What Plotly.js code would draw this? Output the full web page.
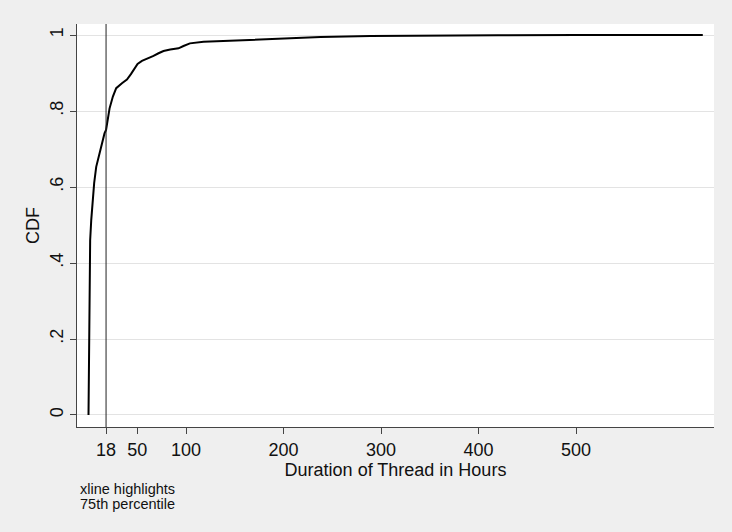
<!DOCTYPE html>
<html>
<head>
<meta charset="utf-8">
<script src="https://cdn.plot.ly/plotly-3.0.1.min.js"></script>
<style>
  html, body { margin: 0; padding: 0; background: #efefef; }
  #chart { width: 732px; height: 532px; }
</style>
</head>
<body>
<div id="chart"></div>
<script>
// Duration of thread (hours) and cumulative share
const durationHours = [0, 0.2, 0.4, 0.6, 1.0, 1.7, 2.8, 4.1, 5.8, 7.9, 12, 16.4, 18, 18.9, 21.6, 25, 28.4, 34.3, 39.4, 43.5, 46.9, 50.3, 54.8, 61.5, 66.7, 71.8, 76.9, 83.8, 92.3, 97.4, 104, 118, 135, 152, 176, 193, 238, 289, 357, 420, 500, 630];
const cdfValues     = [0, 0.09, 0.18, 0.268, 0.373, 0.46, 0.513, 0.557, 0.61, 0.653, 0.697, 0.741, 0.75, 0.768, 0.807, 0.838, 0.86, 0.873, 0.883, 0.897, 0.912, 0.924, 0.932, 0.939, 0.945, 0.952, 0.958, 0.962, 0.965, 0.971, 0.978, 0.982, 0.984, 0.985, 0.988, 0.991, 0.995, 0.9975, 0.999, 0.9995, 0.9998, 1.0];

const xTickVals = [18, 50, 100, 200, 300, 400, 500];
const xTickText = ["18", "50", "100", "200", "300", "400", "500"];
const yTickVals = [0, 0.2, 0.4, 0.6, 0.8, 1];
const yTickText = ["0", ".2", ".4", ".6", ".8", "1"];
const percentile75 = 18;
const noteLines = ["xline highlights", "75th percentile"];

const font = "Liberation Sans, Arial, sans-serif";

const trace = {
  x: durationHours,
  y: cdfValues,
  type: "scatter",
  mode: "lines",
  line: { color: "#000000", width: 2 },
  hoverinfo: "skip"
};

const layout = {
  width: 732,
  height: 532,
  paper_bgcolor: "#efefef",
  plot_bgcolor: "#ffffff",
  margin: { l: 77, r: 18, t: 24, b: 105 },
  showlegend: false,
  font: { family: font, color: "#111111", size: 18 },
  xaxis: {
    range: [-11.8, 641.5],
    tickvals: xTickVals,
    ticktext: xTickText,
    ticks: "outside",
    ticklen: 6,
    tickwidth: 1,
    tickcolor: "#444444",
    showgrid: false,
    zeroline: false,
    showline: true,
    linecolor: "#444444",
    linewidth: 1,
    tickfont: { family: font, size: 18, color: "#111111" },
    title: { text: "Duration of Thread in Hours", font: { family: font, size: 18, color: "#111111" }, standoff: 2 }
  },
  yaxis: {
    range: [-0.0316, 1.029],
    tickvals: yTickVals,
    ticktext: yTickText,
    tickangle: -90,
    ticks: "outside",
    ticklen: 6,
    tickwidth: 1,
    tickcolor: "#444444",
    showgrid: true,
    gridcolor: "#e3e3e3",
    gridwidth: 1,
    zeroline: false,
    showline: true,
    linecolor: "#444444",
    linewidth: 1,
    tickfont: { family: font, size: 18, color: "#111111" },
    title: { text: "CDF", font: { family: font, size: 18, color: "#111111" }, standoff: 2 }
  },
  shapes: [{
    type: "line",
    xref: "x", yref: "paper",
    x0: percentile75, x1: percentile75, y0: 0, y1: 1,
    line: { color: "#222222", width: 1 }
  }],
  annotations: noteLines.map((t, i) => ({
    text: t,
    xref: "paper", yref: "paper",
    x: 0.002, y: (532 - 105 - (489 + i * 15)) / (532 - 24 - 105),
    xanchor: "left", yanchor: "middle",
    showarrow: false,
    font: { family: font, size: 14.5, color: "#111111" }
  }))
};

Plotly.newPlot("chart", [trace], layout, { displayModeBar: false, staticPlot: true });
</script>
</body>
</html>
